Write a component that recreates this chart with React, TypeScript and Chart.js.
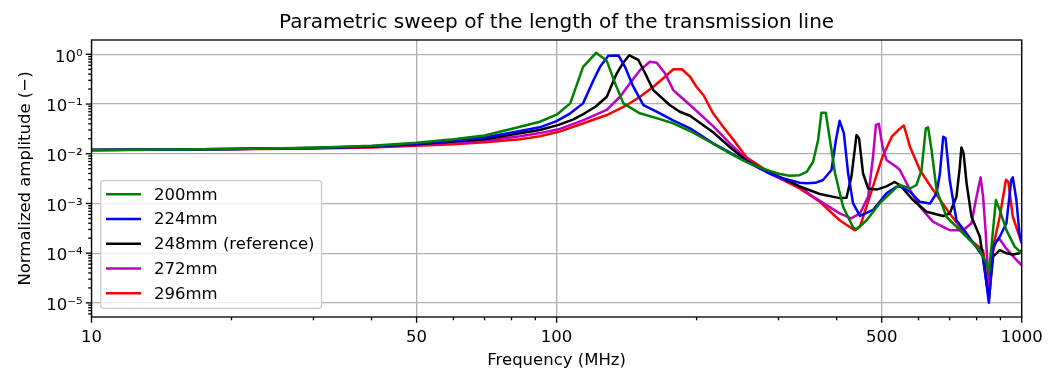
import React, { useEffect, useRef } from "react";
import { Chart, registerables } from "chart.js";

Chart.register(...registerables);

const FONT = "'DejaVu Sans', sans-serif";

const TITLE = "Parametric sweep of the length of the transmission line";
const X_LABEL = "Frequency (MHz)";
const Y_LABEL = "Normalized amplitude (−)";

const X_MAJOR = [10, 50, 100, 500, 1000];
const X_MINOR = [20, 30, 40, 60, 70, 80, 90, 200, 300, 400, 600, 700, 800, 900];
const Y_MAJOR = [1e-5, 1e-4, 1e-3, 1e-2, 1e-1, 1];
const Y_LABELS = ["10⁻⁵", "10⁻⁴", "10⁻³", "10⁻²", "10⁻¹", "10⁰"];
const Y_MINOR = [
  6e-6, 7e-6, 8e-6, 9e-6,
  2e-5, 3e-5, 4e-5, 5e-5, 6e-5, 7e-5, 8e-5, 9e-5,
  2e-4, 3e-4, 4e-4, 5e-4, 6e-4, 7e-4, 8e-4, 9e-4,
  2e-3, 3e-3, 4e-3, 5e-3, 6e-3, 7e-3, 8e-3, 9e-3,
  2e-2, 3e-2, 4e-2, 5e-2, 6e-2, 7e-2, 8e-2, 9e-2,
  2e-1, 3e-1, 4e-1, 5e-1, 6e-1, 7e-1, 8e-1, 9e-1,
];
const X_MIN = 10;
const X_MAX = 1000;
const Y_MIN = 5.2e-6;
const Y_MAX = 1.94;

const SERIES_NAMES = ["200mm", "224mm", "248mm (reference)", "272mm", "296mm"];
const SERIES_COLORS = ["#008000", "#0000ff", "#000000", "#bf00bf", "#ff0000"];

// 200mm
const freq200 = [10, 15, 20, 30, 40, 50, 60, 70, 83.5, 92, 100, 107, 114, 121.6, 128.2, 133.6, 139.2, 151, 164, 178, 193, 210, 236, 256, 287, 302, 317, 333, 345, 356, 365, 371, 379, 387, 397, 413, 434, 441, 464, 495, 538, 547, 575, 594, 609, 622, 629, 640, 656, 689, 761, 813, 840, 850, 861, 880, 897, 927, 966, 1000];
const amp200 = [0.0119, 0.0121, 0.0124, 0.0132, 0.0145, 0.0166, 0.0195, 0.0233, 0.035, 0.044, 0.061, 0.103, 0.56, 1.07, 0.74, 0.26, 0.103, 0.065, 0.052, 0.041, 0.029, 0.0189, 0.0102, 0.0068, 0.0045, 0.0039, 0.0036, 0.0037, 0.0043, 0.0069, 0.0189, 0.067, 0.067, 0.0189, 0.004, 0.00086, 0.00033, 0.0003, 0.00046, 0.001, 0.0021, 0.00235, 0.002, 0.00235, 0.0047, 0.0324, 0.034, 0.0119, 0.0019, 0.00054, 0.000214, 0.000115, 6.2e-5, 4e-5, 0.000135, 0.00117, 0.00074, 0.00029, 0.000135, 9.9e-5];

// 224mm
const freq224 = [10, 15, 20, 30, 40, 50, 60, 70, 83.5, 92, 100, 107, 114, 120, 124, 129.2, 135.8, 140.3, 146.2, 153.7, 164, 178, 193.6, 217, 236, 256, 287, 302, 333, 345, 360, 374, 390, 398.6, 406, 414.6, 423.5, 434, 449, 479, 512, 538, 547, 575, 604, 635, 656, 667, 678, 686, 700, 724, 761, 826, 850, 868, 897, 927, 950, 957, 974, 989, 1000];
const amp224 = [0.0119, 0.0121, 0.0124, 0.0131, 0.0141, 0.0159, 0.0182, 0.0212, 0.0287, 0.034, 0.0454, 0.065, 0.103, 0.30, 0.56, 0.94, 0.95, 0.56, 0.223, 0.095, 0.07, 0.047, 0.0325, 0.0162, 0.0105, 0.0069, 0.004, 0.00335, 0.0026, 0.00254, 0.0026, 0.00296, 0.0047, 0.0189, 0.046, 0.0259, 0.004, 0.001, 0.00056, 0.00074, 0.0016, 0.00217, 0.0022, 0.00172, 0.00108, 0.001, 0.0016, 0.004, 0.022, 0.0204, 0.003, 0.00046, 0.00025, 8.5e-5, 1e-5, 0.000135, 0.000214, 0.0004, 0.003, 0.00335, 0.00117, 0.00025, 0.00016];

// 248mm (reference)
const freq248 = [10, 15, 20, 30, 40, 50, 60, 70, 83.5, 92, 101, 108.7, 114.2, 121.2, 128.2, 134.7, 138.8, 143.3, 149.9, 155, 161.4, 175, 184, 193.6, 217, 236, 256, 287, 302, 333, 368, 406, 420, 430.5, 441.4, 447, 456, 467.7, 487.5, 512, 533, 547, 584, 624, 678, 700, 724, 736, 742, 750, 761, 780, 813, 850, 868, 897, 927, 957, 989, 1000];
const amp248 = [0.0119, 0.0121, 0.0124, 0.013, 0.014, 0.0156, 0.0176, 0.0196, 0.0259, 0.030, 0.038, 0.049, 0.063, 0.088, 0.14, 0.415, 0.66, 0.955, 0.77, 0.415, 0.19, 0.0954, 0.07, 0.058, 0.027, 0.0135, 0.0072, 0.0042, 0.0034, 0.0022, 0.00155, 0.00128, 0.0013, 0.0035, 0.0237, 0.0204, 0.004, 0.002, 0.0019, 0.0022, 0.0027, 0.00235, 0.00117, 0.00068, 0.00056, 0.00063, 0.00137, 0.0054, 0.0134, 0.0102, 0.0026, 0.00054, 0.000214, 1.2e-5, 8.5e-5, 0.000115, 0.0001, 9.4e-5, 0.0001, 0.000115];

// 272mm
const freq272 = [10, 15, 20, 30, 40, 50, 60, 70, 83.5, 92, 101, 114.2, 128.2, 136.9, 143.8, 151.2, 158.7, 164.1, 171, 178.2, 184, 193.6, 217, 236, 256, 287, 302, 333, 356, 406, 430, 449, 467.7, 479, 486, 493, 502, 512, 538, 547, 575, 604, 644, 700, 748, 780, 797, 816, 826, 837, 850, 861, 881, 897, 927, 974, 1000];
const amp272 = [0.0119, 0.0121, 0.0124, 0.0129, 0.0137, 0.0151, 0.0168, 0.0183, 0.0225, 0.026, 0.031, 0.0475, 0.076, 0.14, 0.261, 0.483, 0.71, 0.678, 0.415, 0.19, 0.145, 0.0954, 0.036, 0.016, 0.0078, 0.004, 0.0032, 0.0022, 0.00137, 0.00063, 0.0005, 0.00063, 0.00137, 0.0087, 0.038, 0.04, 0.0139, 0.0075, 0.0054, 0.0047, 0.0019, 0.00086, 0.00043, 0.00029, 0.00029, 0.0004, 0.00117, 0.00335, 0.00137, 0.00025, 1.8e-5, 8.5e-5, 0.000176, 0.00019, 0.000123, 7.3e-5, 5.7e-5];

// 296mm
const freq296 = [10, 15, 20, 30, 40, 50, 60, 70, 83.5, 92, 101, 114.2, 128.2, 141.6, 151.2, 161.4, 171, 178.2, 186, 193.6, 200, 207, 217, 228, 240, 256, 287, 302, 333, 368, 406, 437.5, 449, 479, 502, 525.6, 547, 558, 575, 604, 644, 700, 772, 826, 850, 868, 897, 925, 936, 957, 1000];
const amp296 = [0.0119, 0.012, 0.0123, 0.0128, 0.0134, 0.0145, 0.0156, 0.017, 0.0195, 0.0225, 0.0276, 0.041, 0.06, 0.0954, 0.14, 0.223, 0.354, 0.50, 0.50, 0.354, 0.22, 0.15, 0.065, 0.035, 0.019, 0.0085, 0.0042, 0.0032, 0.002, 0.00108, 0.00046, 0.00029, 0.00034, 0.0022, 0.0087, 0.022, 0.032, 0.037, 0.0139, 0.0047, 0.0019, 0.00063, 0.00019, 0.000115, 1.5e-5, 0.000135, 0.00054, 0.003, 0.0027, 0.00054, 0.00016];

const SERIES_FREQS = [freq200, freq224, freq248, freq272, freq296];
const SERIES_AMPS = [amp200, amp224, amp248, amp272, amp296];

const W = 1059;
const H = 369;

const frameAndTicks = {
  id: "frameAndTicks",
  afterDatasetsDraw(chart: any) {
    const { ctx, chartArea: a, scales } = chart;
    ctx.save();
    ctx.strokeStyle = "#000";
    ctx.lineWidth = 1.33;
    const seg = (x1: number, y1: number, x2: number, y2: number) => {
      ctx.beginPath();
      ctx.moveTo(x1, y1);
      ctx.lineTo(x2, y2);
      ctx.stroke();
    };
    for (const v of X_MAJOR.concat(X_MINOR)) {
      const px = scales.x.getPixelForValue(v);
      const len = X_MAJOR.includes(v) ? 5.8 : 3.3;
      seg(px, a.bottom, px, a.bottom + len);
    }
    for (const v of Y_MAJOR.concat(Y_MINOR)) {
      const py = scales.y.getPixelForValue(v);
      if (py < a.top - 0.5 || py > a.bottom + 0.5) continue;
      const len = Y_MAJOR.includes(v) ? 5.8 : 3.3;
      seg(a.left - len, py, a.left, py);
    }
    ctx.strokeRect(a.left, a.top, a.right - a.left, a.bottom - a.top);
    ctx.restore();
  },
};

const boxLegend = {
  id: "boxLegend",
  afterDraw(chart: any) {
    const { ctx, chartArea: a } = chart;
    const fontSize = 16.5;
    ctx.save();
    ctx.font = `${fontSize}px ${FONT}`;
    let maxW = 0;
    for (const n of SERIES_NAMES) maxW = Math.max(maxW, ctx.measureText(n).width);
    const left = a.left + 9.2;
    const textX = left + 53.3;
    const width = textX - left + maxW + 7;
    const height = 127.6;
    const bottom = a.bottom - 8.7;
    const top = bottom - height;
    ctx.beginPath();
    ctx.roundRect(left, top, width, height, 3);
    ctx.fillStyle = "rgba(255,255,255,0.8)";
    ctx.fill();
    ctx.strokeStyle = "#cccccc";
    ctx.lineWidth = 1.33;
    ctx.stroke();
    ctx.textBaseline = "middle";
    ctx.textAlign = "left";
    SERIES_NAMES.forEach((name, i) => {
      const y = top + 13.6 + i * 24.75;
      ctx.strokeStyle = SERIES_COLORS[i];
      ctx.lineWidth = 2.5;
      ctx.beginPath();
      ctx.moveTo(left + 5.3, y);
      ctx.lineTo(left + 40.3, y);
      ctx.stroke();
      ctx.fillStyle = "#000";
      ctx.fillText(name, textX, y + 1);
    });
    ctx.restore();
  },
};

export default function App() {
  const canvasRef = useRef<HTMLCanvasElement | null>(null);

  useEffect(() => {
    document.body.style.margin = "0";
    const canvas = canvasRef.current;
    if (!canvas) return;

    const datasets = SERIES_NAMES.map((name, i) => ({
      label: name,
      data: SERIES_FREQS[i].map((f, j) => ({ x: f, y: SERIES_AMPS[i][j] })),
      borderColor: SERIES_COLORS[i],
      backgroundColor: SERIES_COLORS[i],
      borderWidth: 2.5,
      pointRadius: 0,
      pointHoverRadius: 0,
      tension: 0,
      fill: false,
      borderJoinStyle: "round" as const,
    }));

    const chart = new Chart(canvas, {
      type: "line",
      data: { datasets },
      options: {
        responsive: false,
        animation: false,
        devicePixelRatio: 1,
        layout: { padding: { left: 0, right: 37.3, top: 0, bottom: 0 } },
        plugins: {
          legend: { display: false },
          tooltip: { enabled: false },
          title: {
            display: true,
            text: TITLE,
            fullSize: false,
            color: "#000",
            font: { family: FONT, size: 20, weight: "normal", lineHeight: 1.2 },
            padding: { top: 11, bottom: 5 },
          },
        },
        scales: {
          x: {
            type: "logarithmic",
            min: X_MIN,
            max: X_MAX,
            afterBuildTicks: (s: any) => {
              s.ticks = X_MAJOR.concat(X_MINOR)
                .sort((p, q) => p - q)
                .map((v) => ({ value: v }));
            },
            afterFit: (s: any) => {
              s.height = 52;
            },
            ticks: {
              autoSkip: false,
              maxRotation: 0,
              minRotation: 0,
              padding: 11,
              color: "#000",
              font: { family: FONT, size: 16.5 },
              callback: (v: any) => (X_MAJOR.includes(Number(v)) ? String(v) : ""),
            },
            grid: {
              drawTicks: false,
              lineWidth: 1.33,
              color: (c: any) =>
                c.tick && X_MAJOR.includes(c.tick.value) ? "#b0b0b0" : "rgba(0,0,0,0)",
            },
            border: { display: false },
            title: {
              display: true,
              text: X_LABEL,
              color: "#000",
              font: { family: FONT, size: 16.5, lineHeight: 1.2 },
              padding: { top: 0, bottom: -1.5 },
            },
          },
          y: {
            type: "logarithmic",
            min: Y_MIN,
            max: Y_MAX,
            afterBuildTicks: (s: any) => {
              s.ticks = Y_MAJOR.concat(Y_MINOR)
                .sort((p, q) => p - q)
                .map((v) => ({ value: v }));
            },
            afterFit: (s: any) => {
              s.width = 91.5;
            },
            ticks: {
              autoSkip: false,
              padding: 9,
              labelOffset: 3,
              color: "#000",
              font: { family: FONT, size: 16.5 },
              callback: (v: any) => {
                const k = Y_MAJOR.indexOf(Number(v));
                return k >= 0 ? Y_LABELS[k] : "";
              },
            },
            grid: {
              drawTicks: false,
              lineWidth: 1.33,
              color: (c: any) =>
                c.tick && Y_MAJOR.includes(c.tick.value) ? "#b0b0b0" : "rgba(0,0,0,0)",
            },
            border: { display: false },
            title: {
              display: true,
              text: Y_LABEL,
              color: "#000",
              font: { family: FONT, size: 16.5, lineHeight: 1.2 },
              padding: { top: 16, bottom: 0 },
            },
          },
        },
      },
      plugins: [frameAndTicks, boxLegend],
    });

    return () => chart.destroy();
  }, []);

  return (
    <div style={{ width: W, height: H }}>
      <canvas ref={canvasRef} width={W} height={H} style={{ width: W, height: H, display: "block" }} />
    </div>
  );
}
